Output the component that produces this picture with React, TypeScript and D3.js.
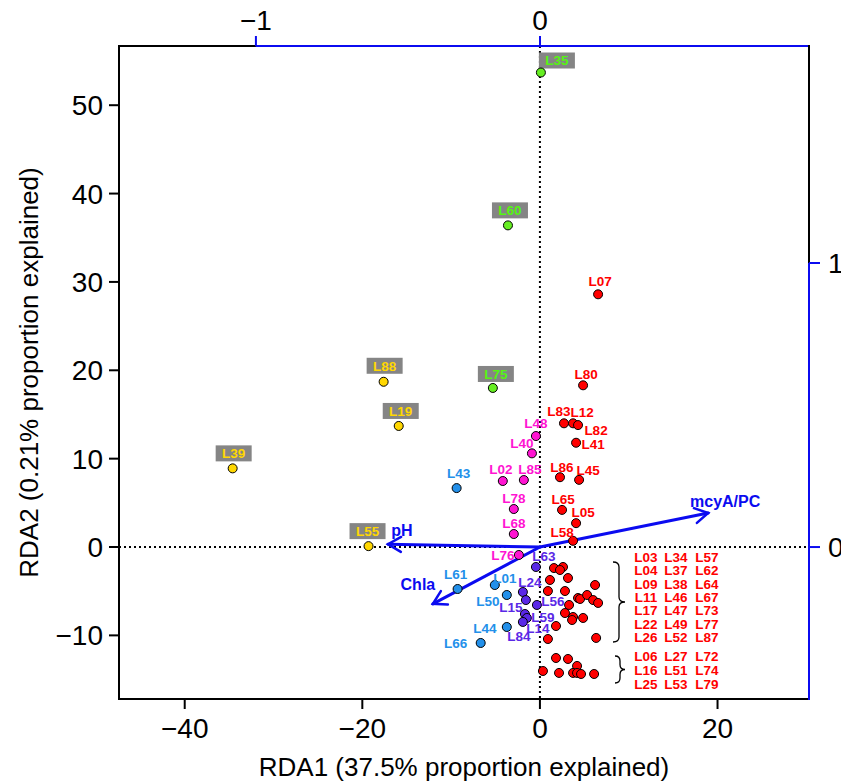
import React from "react";
import * as d3 from "d3";

// site scores (RDA1, RDA2)
const redSites: [string, number, number][] = [
  ["L07", 6.55, 28.6], ["L80", 4.86, 18.3], ["L83", 2.71, 14.0], ["L12", 3.73, 14.0],
  ["L82", 4.29, 13.8], ["L41", 4.07, 11.8], ["L86", 2.26, 7.9], ["L45", 4.41, 7.6],
  ["L65", 2.49, 4.2], ["L05", 4.07, 2.7], ["L58", 3.73, 0.7],
];
const magentaSites: [string, number, number][] = [
  ["L48", -0.45, 12.56], ["L40", -0.9, 10.6], ["L02", -4.18, 7.47], ["L85", -1.81, 7.58],
  ["L78", -2.94, 4.3], ["L68", -2.94, 1.47], ["L76", -2.37, -0.9],
];
const purpleSites: [string, number, number][] = [
  ["L63", -0.45, -2.26], ["L24", -1.92, -5.09], ["L15", -1.58, -6.0], ["L56", -0.34, -6.56],
  ["L59", -1.69, -7.58], ["L14", -1.47, -8.03], ["L84", -1.92, -8.48],
];
const blueSites: [string, number, number][] = [
  ["L43", -9.38, 6.67], ["L61", -9.27, -4.75], ["L01", -5.08, -4.3], ["L50", -3.73, -5.43],
  ["L44", -3.73, -9.05], ["L66", -6.67, -10.86],
];
const yellowSites: [string, number, number][] = [
  ["L88", -17.6, 18.7], ["L19", -15.9, 13.7], ["L39", -34.6, 8.9], ["L55", -19.3, 0.1],
];
const greenSites: [string, number, number][] = [
  ["L35", 0.11, 53.7], ["L60", -3.6, 36.4], ["L75", -5.3, 18.0],
];

// unlabeled red clusters, named in the bracket tables
const clusterUpper: [number, number][] = [
  [1.58, -2.38], [2.6, -2.26], [2.26, -2.6], [1.13, -3.73], [3.16, -3.51], [6.21, -4.3],
  [0.9, -4.98], [2.82, -4.98], [3.28, -6.56], [4.29, -5.77], [4.52, -5.88], [5.31, -5.43],
  [5.99, -6.0], [6.55, -6.33], [2.82, -7.47], [3.73, -7.92], [3.62, -8.26], [4.86, -8.03],
  [1.81, -8.94], [0.9, -10.41], [6.33, -10.29],
];
const clusterLower: [number, number][] = [
  [1.81, -12.56], [3.16, -12.67], [4.18, -13.46], [0.34, -14.03], [2.15, -14.25],
  [3.73, -14.25], [4.18, -14.25], [4.63, -14.37], [6.1, -14.37],
];
const upperNames = [
  ["L03", "L34", "L57"], ["L04", "L37", "L62"], ["L09", "L38", "L64"], ["L11", "L46", "L67"],
  ["L17", "L47", "L73"], ["L22", "L49", "L77"], ["L26", "L52", "L87"],
];
const lowerNames = [["L06", "L27", "L72"], ["L16", "L51", "L74"], ["L25", "L53", "L79"]];

// environmental vectors (biplot scale)
const envVectors: [string, number, number][] = [
  ["mcyA/PC", 0.592, 0.12],
  ["pH", -0.535, 0.01],
  ["Chla", -0.377, -0.2],
];

const xTicks = [-40, -20, 0, 20];
const yTicks = [-10, 0, 10, 20, 30, 40, 50];
const uTicks = [-1, 0];
const vTicks = [0, 1];

// label nudges in pixels (label centre relative to point)
const nudge: Record<string, [number, number]> = {
  L07: [2, -13], L80: [3, -11], L83: [-5, -12], L12: [9, -11], L82: [18, 5], L41: [17, 1],
  L86: [2, -10], L45: [9, -10], L65: [1, -11], L05: [7, -11], L58: [-11, -9],
  L48: [0, -13], L40: [-10, -10], L02: [-2, -12], L85: [6, -11], L78: [0, -11], L68: [0, -11], L76: [-16, 0],
  L63: [8, -11], L24: [7, -10], L15: [-15, 7], L56: [16, -4], L59: [18, 3], L14: [11, 10], L84: [-4, 14],
  L43: [2, -15], L61: [-2, -15], L01: [10, -7], L50: [-19, 6], L44: [-22, 1], L66: [-25, 0],
  L88: [1, -16], L19: [2, -15], L39: [1, -15], L55: [-1, -15], L75: [3, -14], L60: [2, -15], L35: [16, -12],
};
const vecLabelPos: Record<string, [number, number]> = {
  "mcyA/PC": [17, -12], pH: [14, -14], Chla: [-15, -20],
};

const W = 841;
const H = 784;
const L = 119, R = 809, T = 46, B = 699;
const FONT = "'Liberation Sans', Arial, Helvetica, sans-serif";

const x = d3.scaleLinear().domain([-47.4, 30.3]).range([L, R]);
const y = d3.scaleLinear().domain([-17.2, 56.7]).range([B, T]);
const u = d3.scaleLinear().domain([-1.482, 0.947]).range([L, R]);
const v = d3.scaleLinear().domain([-0.535, 1.764]).range([B, T]);
const fmt = (t: number) => d3.format("d")(t).replace("-", "\u2212");

const RED = "#ff0000";
const MAGENTA = "#ff14d2";
const PURPLE = "#5a28e6";
const LBLUE = "#2390ea";
const YELLOW = "#ffd700";
const GREEN = "#66ee22";
const BLUE = "#0b0bf0";

function brace(x0: number, x1: number, y0: number, y1: number) {
  const xm = (x0 + x1) / 2;
  const ym = (y0 + y1) / 2;
  const r = 5;
  return `M${x0},${y0} Q${xm},${y0} ${xm},${y0 + r} L${xm},${ym - r} Q${xm},${ym} ${x1},${ym} Q${xm},${ym} ${xm},${ym + r} L${xm},${y1 - r} Q${xm},${y1} ${x0},${y1}`;
}

function Dots({ sites, color, weight }: { sites: [string, number, number][]; color: string; weight: string }) {
  return (
    <g>
      {sites.map(([id, a, b]) => (
        <circle key={id} cx={x(a)} cy={y(b)} r={4.5} fill={color} stroke="#000" strokeWidth={1} />
      ))}
      {sites.map(([id, a, b]) => {
        const [dx, dy] = nudge[id] || [0, -13];
        return (
          <text key={id + "t"} x={x(a) + dx} y={y(b) + dy} dy="0.36em" textAnchor="middle"
            fontSize={13.5} fontWeight={weight} fill={color}>{id}</text>
        );
      })}
    </g>
  );
}

function BoxDots({ sites, color, textColor }: { sites: [string, number, number][]; color: string; textColor: string }) {
  return (
    <g>
      {sites.map(([id, a, b]) => {
        const [dx, dy] = nudge[id] || [0, -15];
        const cx = x(a) + dx, cy = y(b) + dy;
        return (
          <g key={id}>
            <rect x={cx - 18} y={cy - 8} width={36} height={16} fill="#858585" />
            <text x={cx} y={cy} dy="0.36em" textAnchor="middle" fontSize={13.5} fontWeight="bold" fill={textColor}>{id}</text>
          </g>
        );
      })}
      {sites.map(([id, a, b]) => (
        <circle key={id + "c"} cx={x(a)} cy={y(b)} r={4.5} fill={color} stroke="#000" strokeWidth={1} />
      ))}
    </g>
  );
}

function Arrow({ name, a, b }: { name: string; a: number; b: number }) {
  const x0 = u(0), y0 = v(0), x1 = u(a), y1 = v(b);
  const ang = Math.atan2(y1 - y0, x1 - x0);
  const len = 15, spread = Math.PI / 6;
  const h1 = [x1 - len * Math.cos(ang - spread), y1 - len * Math.sin(ang - spread)];
  const h2 = [x1 - len * Math.cos(ang + spread), y1 - len * Math.sin(ang + spread)];
  const [lx, ly] = vecLabelPos[name];
  return (
    <g stroke={BLUE} strokeWidth={3} fill="none" strokeLinecap="round">
      <line x1={x0} y1={y0} x2={x1} y2={y1} />
      <polyline points={`${h1[0]},${h1[1]} ${x1},${y1} ${h2[0]},${h2[1]}`} strokeWidth={2.5} />
      <text x={x1 + lx} y={y1 + ly} dy="0.36em" textAnchor="middle" stroke="none" fill={BLUE}
        fontSize={16} fontWeight="bold">{name}</text>
    </g>
  );
}

export default function App() {
  const colX = [646, 676, 707];
  return (
    <svg width={W} height={H} style={{ position: "absolute", left: 0, top: 0, background: "#fff" }} fontFamily={FONT}>
      <rect width={W} height={H} fill="#fff" />
      {/* zero lines */}
      <line x1={L} x2={R} y1={y(0)} y2={y(0)} stroke="#000" strokeWidth={2} strokeDasharray="2,3" />
      <line x1={x(0)} x2={x(0)} y1={T} y2={B} stroke="#000" strokeWidth={2} strokeDasharray="2,3" />

      {envVectors.map(([n, a, b]) => <Arrow key={n} name={n} a={a} b={b} />)}

      {/* unlabeled clusters */}
      {clusterUpper.concat(clusterLower).map(([a, b], i) => (
        <circle key={"c" + i} cx={x(a)} cy={y(b)} r={4.5} fill={RED} stroke="#000" strokeWidth={1} />
      ))}

      <Dots sites={redSites} color={RED} weight="bold" />
      <Dots sites={magentaSites} color={MAGENTA} weight="bold" />
      <Dots sites={purpleSites} color={PURPLE} weight="bold" />
      <Dots sites={blueSites} color={LBLUE} weight="bold" />
      <BoxDots sites={yellowSites} color={YELLOW} textColor={YELLOW} />
      <BoxDots sites={greenSites} color={GREEN} textColor="#55f511" />

      {/* bracket tables */}
      <path d={brace(613, 625, 562, 642)} fill="none" stroke="#000" strokeWidth={1.3} />
      <path d={brace(615, 625, 656, 683)} fill="none" stroke="#000" strokeWidth={1.3} />
      {upperNames.map((row, i) => row.map((n, j) => (
        <text key={n} x={colX[j]} y={557 + i * 13.35} dy="0.36em" textAnchor="middle" fontSize={13.5} fontWeight="bold" fill={RED}>{n}</text>
      )))}
      {lowerNames.map((row, i) => row.map((n, j) => (
        <text key={n} x={colX[j]} y={656 + i * 14} dy="0.36em" textAnchor="middle" fontSize={13.5} fontWeight="bold" fill={RED}>{n}</text>
      )))}

      {/* frame */}
      <line x1={L} x2={L} y1={T - 1} y2={B + 1} stroke="#000" strokeWidth={2} />
      <line x1={L - 1} x2={R + 1} y1={B} y2={B} stroke="#000" strokeWidth={2} />
      <line x1={L - 1} x2={u(-1)} y1={T} y2={T} stroke="#000" strokeWidth={2} />
      <line x1={u(-1)} x2={R + 1} y1={T} y2={T} stroke={BLUE} strokeWidth={2} />
      <line x1={R} x2={R} y1={T - 1} y2={v(1)} stroke="#000" strokeWidth={2} />
      <line x1={R} x2={R} y1={v(1)} y2={B + 1} stroke={BLUE} strokeWidth={2} />

      {/* bottom axis */}
      {xTicks.map((t) => (
        <g key={"x" + t}>
          <line x1={x(t)} x2={x(t)} y1={B} y2={B + 10} stroke="#000" strokeWidth={2} />
          <text x={x(t)} y={738} textAnchor="middle" fontSize={28}>{fmt(t)}</text>
        </g>
      ))}
      {/* left axis */}
      {yTicks.map((t) => (
        <g key={"y" + t}>
          <line x1={L - 10} x2={L} y1={y(t)} y2={y(t)} stroke="#000" strokeWidth={2} />
          <text x={103} y={y(t)} dy="0.36em" textAnchor="end" fontSize={28}>{fmt(t)}</text>
        </g>
      ))}
      {/* top axis */}
      {uTicks.map((t) => (
        <g key={"u" + t}>
          <line x1={u(t)} x2={u(t)} y1={T - 10} y2={T} stroke={BLUE} strokeWidth={2} />
          <text x={u(t)} y={30} textAnchor="middle" fontSize={28}>{fmt(t)}</text>
        </g>
      ))}
      {/* right axis */}
      {vTicks.map((t) => (
        <g key={"v" + t}>
          <line x1={R} x2={R + 11} y1={v(t)} y2={v(t)} stroke={BLUE} strokeWidth={2} />
          <text x={828} y={v(t)} dy="0.36em" textAnchor="start" fontSize={28}>{fmt(t)}</text>
        </g>
      ))}

      <text x={(L + R) / 2} y={776} textAnchor="middle" fontSize={26}>RDA1 (37.5% proportion explained)</text>
      <text transform={`translate(38,${(T + B) / 2}) rotate(-90)`} textAnchor="middle" fontSize={26}>RDA2 (0.21% proportion explained)</text>
    </svg>
  );
}
